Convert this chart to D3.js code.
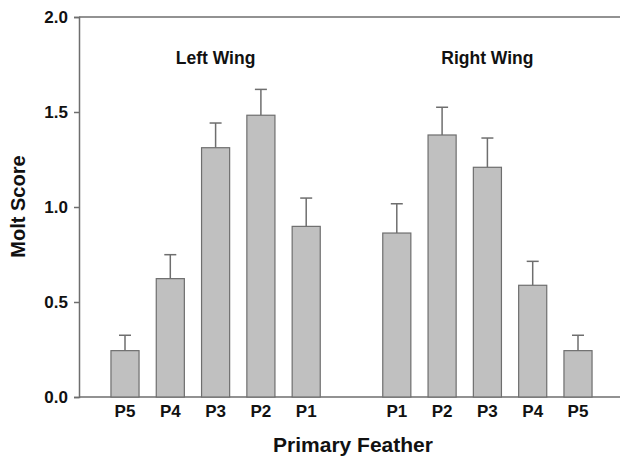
<!DOCTYPE html>
<html>
<head>
<meta charset="utf-8">
<script src="https://cdn.jsdelivr.net/npm/d3@7"></script>
<style>
  body { margin: 0; background: #fff; }
  svg { display: block; font-family: "Liberation Sans", Arial, sans-serif; }
</style>
</head>
<body>
<svg id="chart" width="621" height="458"></svg>
<script>
// ---- data ----
const slots = ["L-P5","L-P4","L-P3","L-P2","L-P1","gap","R-P1","R-P2","R-P3","R-P4","R-P5"];
const barKeys = ["L-P5","L-P4","L-P3","L-P2","L-P1","R-P1","R-P2","R-P3","R-P4","R-P5"];
const barLabels = ["P5","P4","P3","P2","P1","P1","P2","P3","P4","P5"];
const means = [0.244, 0.623, 1.312, 1.483, 0.898, 0.863, 1.379, 1.209, 0.588, 0.244];
const errors = [0.081, 0.126, 0.130, 0.136, 0.149, 0.154, 0.146, 0.154, 0.126, 0.081];
const yTicks = [0.0, 0.5, 1.0, 1.5, 2.0];
const groupLabels = ["Left Wing", "Right Wing"];
const groupMembers = [["L-P5","L-P1"], ["R-P1","R-P5"]];

// ---- layout ----
const svg = d3.select("#chart");
const plot = {left: 79, right: 620, top: 17, bottom: 397};

const x = d3.scaleBand().domain(slots).range([102.35, 600.65]).paddingInner(0.38).paddingOuter(0.19);
const y = d3.scaleLinear().domain([0, 2]).range([plot.bottom, plot.top]);

const axisColor = "#6e6e6e";
const textColor = "#111";

// frame: top and bottom lines
svg.append("line").attr("x1", plot.left).attr("x2", plot.right).attr("y1", y(2)).attr("y2", y(2))
  .attr("stroke", axisColor).attr("stroke-width", 1.5);
svg.append("line").attr("x1", plot.left).attr("x2", plot.right).attr("y1", y(0)).attr("y2", y(0))
  .attr("stroke", axisColor).attr("stroke-width", 1.5);

// y axis
const yAxis = d3.axisLeft(y).tickValues(yTicks).tickFormat(d3.format(".1f")).tickSize(5).tickPadding(6);
const gy = svg.append("g").attr("transform", `translate(${plot.left},0)`).call(yAxis);
gy.select(".domain").attr("stroke", axisColor).attr("stroke-width", 1.5);
gy.selectAll(".tick line").attr("stroke", axisColor).attr("stroke-width", 1.5);
gy.selectAll(".tick text").attr("font-size", 17).attr("font-weight", "bold").attr("fill", textColor)
  .attr("font-family", "Liberation Sans, Arial, sans-serif");

// x axis labels
const xAxis = d3.axisBottom(x).tickValues(barKeys)
  .tickFormat((d) => barLabels[barKeys.indexOf(d)]).tickSize(0).tickPadding(8);
const gx = svg.append("g").attr("transform", `translate(0,${plot.bottom})`).call(xAxis);
gx.select(".domain").remove();
gx.selectAll(".tick text").attr("font-size", 17).attr("font-weight", "bold").attr("fill", textColor)
  .attr("font-family", "Liberation Sans, Arial, sans-serif");

// bars
const data = barKeys.map((k, i) => ({key: k, v: means[i], e: errors[i]}));
const bw = x.bandwidth();

// error bars
const eb = svg.append("g").attr("stroke", axisColor).attr("stroke-width", 1.5);
data.forEach(d => {
  const cx = x(d.key) + bw / 2;
  eb.append("line").attr("x1", cx).attr("x2", cx).attr("y1", y(d.v)).attr("y2", y(d.v + d.e));
  eb.append("line").attr("x1", cx - 6).attr("x2", cx + 6).attr("y1", y(d.v + d.e)).attr("y2", y(d.v + d.e));
});

svg.append("g").selectAll("rect").data(data).join("rect")
  .attr("x", d => x(d.key))
  .attr("y", d => y(d.v))
  .attr("width", bw)
  .attr("height", d => y(0) - y(d.v))
  .attr("fill", "#c0c0c0")
  .attr("stroke", "#6e6e6e")
  .attr("stroke-width", 1.2);

// group labels
groupLabels.forEach((g, i) => {
  const [a, b] = groupMembers[i];
  const cx = (x(a) + x(b) + bw) / 2;
  svg.append("text").attr("x", cx).attr("y", 63.5).attr("text-anchor", "middle")
    .attr("font-size", 17.5).attr("font-weight", "bold").attr("fill", textColor).text(g);
});

// axis titles
svg.append("text").attr("x", 353).attr("y", 452).attr("text-anchor", "middle")
  .attr("font-size", 21).attr("font-weight", "bold").attr("fill", textColor).text("Primary Feather");
svg.append("text").attr("transform", "translate(25,206.5) rotate(-90)").attr("text-anchor", "middle")
  .attr("font-size", 20).attr("font-weight", "bold").attr("fill", textColor).text("Molt Score");
</script>
</body>
</html>
